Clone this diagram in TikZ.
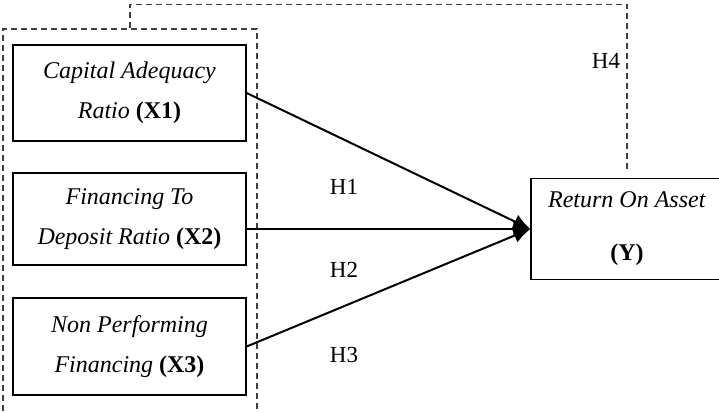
\documentclass[tikz,border=0pt]{standalone}
\usepackage{fontspec}
\setmainfont{Liberation Serif}
\usetikzlibrary{arrows.meta}
\begin{document}
\begin{tikzpicture}[x=1pt,y=-1pt,
  varbox/.style={draw,line width=1.3pt,minimum width=233pt,minimum height=96pt,inner sep=0pt,align=center,font=\fontsize{24}{40}\selectfont},
  grp/.style={draw=black!75,line width=1.3pt,dash pattern=on 6pt off 4pt},
  link/.style={line width=2pt,-{Latex[length=17pt,width=15pt]}},
  hlab/.style={font=\fontsize{23}{26}\selectfont,inner sep=0pt}]
\useasboundingbox (0,0) rectangle (719,412);
\node[grp,minimum width=254pt,minimum height=396pt,inner sep=0pt] (G) at (130,227) {};
\node[varbox] (X1) at (129.5,93) {\textit{Capital Adequacy}\\\textit{Ratio} \textbf{(X1)}};
\node[varbox,minimum height=92pt] (X2) at (129.5,219) {\textit{Financing To}\\\textit{Deposit Ratio} \textbf{(X2)}};
\node[varbox,minimum height=97pt] (X3) at (129.5,346.5) {\textit{Non Performing}\\\textit{Financing} \textbf{(X3)}};
\node[varbox,minimum width=192pt,minimum height=101pt,font=\fontsize{24}{53}\selectfont] (Y) at (627,229) {\textit{Return On Asset}\\\textbf{(Y)}};
\coordinate (h4) at (627,173);
\draw[link] (X1.east) -- (Y.west);
\draw[link] (X2.east |- Y.west) -- (Y.west);
\draw[link] (X3.east) -- (Y.west);
\draw[grp] (G.north) -- ++(0,-24) -| (h4);
\node[hlab] (H1) at (344,187) {H1};
\node[hlab] (H2) at (344,270) {H2};
\node[hlab] (H3) at (344,355) {H3};
\node[hlab] (H4) at (606,61) {H4};
\end{tikzpicture}
\end{document}
